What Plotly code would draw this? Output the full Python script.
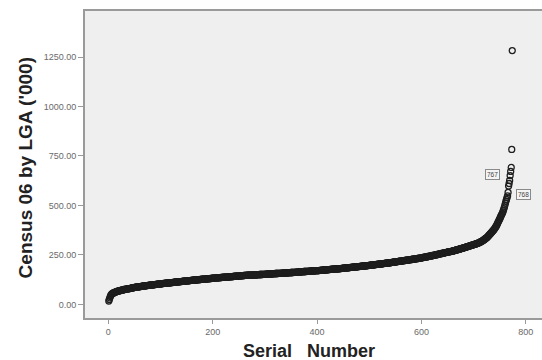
import plotly.graph_objects as go

# Census 2006 population by LGA ('000), sorted ascending
census = [
    17, 25, 33, 40, 46, 50, 53, 55, 57, 58,
    59, 60, 61, 62, 64, 65, 66, 66, 67, 68,
    69, 69, 70, 71, 71, 72, 73, 73, 74, 75,
    75, 76, 76, 77, 77, 78, 78, 79, 79, 80,
    80, 81, 81, 82, 83, 83, 84, 84, 85, 86,
    86, 86, 87, 87, 88, 88, 88, 89, 89, 90, 90, 90, 91, 91, 92, 92, 92, 93, 93, 94,
    94, 94, 95, 95, 95, 96, 96, 96, 97, 97, 97, 98, 98, 98, 99, 99, 99, 100, 100, 100,
    101, 101, 101, 102, 102, 102, 103, 103, 103, 104,
    104, 104, 105, 105, 105, 106, 106, 106, 106, 107, 107, 107, 108, 108, 108, 108, 109, 109, 109, 110,
    110, 110, 110, 111, 111, 111, 112, 112, 112, 113,
    113, 113, 114, 114, 114, 114, 115, 115, 115, 115, 116, 116, 116, 117, 117, 117, 117, 118, 118, 118,
    119, 119, 119, 119, 120, 120, 120, 121, 121, 121, 121, 122, 122, 122, 123, 123,
    123, 124, 124, 124, 124, 125, 125, 125, 125, 126, 126, 126, 126, 127, 127, 127, 127, 128, 128, 128,
    128, 129, 129, 129, 129, 130, 130, 130, 130, 131, 131, 131, 131, 132,
    132, 132, 133, 133, 133, 133, 134, 134, 134, 134, 134, 135, 135, 135, 135, 136, 136, 136, 136, 136,
    137, 137, 137, 137, 138, 138, 138, 138, 138, 139, 139, 139, 139, 140, 140, 140, 140, 140, 141, 141,
    141, 141, 142, 142, 142, 142, 142, 143, 143, 143, 143, 144, 144, 144, 144, 145,
    145, 145, 145, 146, 146, 146, 146, 146, 146, 147, 147, 147, 147, 147, 147, 148, 148, 148, 148, 148,
    148, 149, 149, 149, 149, 149, 149, 150, 150, 150, 150, 150, 150, 151, 151, 151, 151, 151, 151, 152,
    152, 152, 152, 152,
    152, 153, 153, 153, 153, 153, 153, 154, 154, 154, 154, 154, 154, 155, 155, 155, 155, 155, 155, 156,
    156, 156, 156, 156, 156, 157, 157, 157, 157, 157, 157, 158, 158, 158, 158, 158, 158, 159, 159, 159,
    159, 159, 159, 160, 160, 160, 160, 160,
    160, 161, 161, 161, 161, 161, 162, 162, 162, 162, 162, 163, 163, 163, 163, 163, 164, 164, 164, 164,
    164, 165, 165, 165, 165, 165, 166, 166, 166, 166, 166, 167, 167, 167, 167, 167, 168, 168, 168, 168,
    168, 169, 169, 169, 169, 169, 170, 170, 170, 170, 170, 170,
    171, 171, 171, 171, 172, 172, 172, 172, 173, 173, 173, 173, 174, 174, 174, 174, 175, 175, 175, 175,
    176, 176, 176, 176, 177, 177, 177, 177, 178, 178, 178, 178, 178, 179, 179, 179, 179, 180, 180, 180,
    180, 180, 181, 181,
    181, 181, 182, 182, 182, 183, 183, 183, 183, 184, 184, 184, 185, 185, 185, 185, 186, 186, 186, 187,
    187, 187, 187, 188, 188, 188, 189, 189, 189, 189, 190, 190, 190, 191, 191, 191, 191, 192, 192, 192,
    193, 193, 193, 193, 194, 194, 194, 195, 195, 195, 195, 196, 196, 196, 197, 197,
    197, 198, 198, 198, 199, 199, 199, 200, 200, 200, 201, 201, 201, 202, 202, 202, 203, 203, 203, 204,
    204, 204, 205, 205, 205, 206, 206, 206, 207, 207, 207, 208, 208, 208, 209, 209, 209, 210, 210, 210,
    211, 211, 212, 212, 212, 213, 213, 214, 214, 214, 215, 215, 216, 216, 216, 217, 217, 218, 218, 218,
    219, 219, 220, 220, 220, 221, 221, 222, 222, 222, 223, 223, 224, 224, 224, 225, 225, 226, 226, 226,
    227, 227, 228, 228, 228, 229, 229, 230, 230, 230, 231, 231, 232, 232, 232,
    233, 233, 234, 234, 235, 235, 236, 237, 237, 238, 238, 239, 239, 240, 240, 241, 242, 242, 243, 243,
    244, 244, 245, 245, 246, 247, 247, 248, 248, 249, 249, 250, 251, 251, 252, 252, 253, 254, 254, 255,
    255, 256, 257, 257, 258, 258, 259, 260, 260, 261, 262, 262, 263, 263, 264, 265, 265, 266, 266, 267,
    267, 268, 268,
    269, 270, 270, 271, 272, 273, 273, 274, 275, 276, 276, 277, 278, 279, 279, 280, 281, 282, 283, 283,
    284, 285, 286, 287, 287, 288, 289, 290, 291, 292, 292, 293, 294, 295, 296, 297, 298, 298, 299, 300,
    301, 302, 303, 303, 304,
    305, 306, 307, 308, 309, 310, 311, 313, 314, 315, 317, 318, 320, 321, 323, 325, 327, 329, 331, 333,
    335, 337, 339, 342, 345, 348,
    351, 354, 357, 360, 363, 366, 369, 372, 375, 378, 382, 386, 390, 394, 399, 404,
    410, 416, 421, 427, 432, 438, 444, 450, 455,
    460, 467, 475, 483, 492, 502, 512, 522, 530, 540, 548, 566,
    598, 611, 626, 651, 672, 692, 783, 1283,
]
serial = list(range(1, len(census) + 1))

x_ticks = [0, 200, 400, 600, 800]
y_ticks = [0, 250, 500, 750, 1000, 1250]
labelled_cases = [767, 768]
x_title = "Serial   Number"
y_title = "Census 06 by LGA ('000)"

FONT = "Liberation Sans, Arial, sans-serif"

fig = go.Figure()
fig.add_trace(go.Scatter(
    x=serial, y=census, mode="markers",
    marker=dict(symbol="circle-open", size=6, color="#1e1e1e", line=dict(width=1.3)),
    showlegend=False, hoverinfo="skip",
))

# case labels (boxes), placed beside the labelled cases
offsets = {767: (-16, -12), 768: (14, 11)}
for case in labelled_cases:
    ax, ay = offsets[case]
    fig.add_annotation(
        x=case, y=census[case - 1], xref="x", yref="y",
        text=str(case), showarrow=True, arrowcolor="rgba(0,0,0,0)", arrowwidth=0.1,
        ax=ax, ay=ay, font=dict(family=FONT, size=6.5, color="#444"),
        bordercolor="#8a8a8a", borderwidth=1, borderpad=1, bgcolor="#f4f4f4",
    )

# axis titles
fig.add_annotation(
    xref="paper", yref="paper", x=0, y=0.489, xanchor="center", yanchor="middle",
    xshift=-59.5, textangle=-90, showarrow=False, text=f"<b>{y_title}</b>",
    font=dict(family=FONT, size=19, color="#222"),
)
fig.add_annotation(
    xref="paper", yref="paper", x=0.491, y=0, xanchor="center", yanchor="middle",
    yshift=-33, showarrow=False, text=f"<b>{x_title}</b>",
    font=dict(family=FONT, size=18, color="#222"),
)

fig.update_layout(
    width=542, height=360,
    margin=dict(l=85, r=0, t=11, b=42),
    paper_bgcolor="white", plot_bgcolor="#efefef",
    font=dict(family=FONT, color="#555"),
    hovermode=False,
    xaxis=dict(
        range=[-44.6, 831], tickvals=x_ticks, ticktext=[str(v) for v in x_ticks],
        automargin=False,
        showgrid=False, zeroline=False, showline=True, linecolor="#9a9a9a", linewidth=2,
        mirror=True, ticks="outside", ticklen=4, tickcolor="#9a9a9a",
        tickfont=dict(size=9, color="#6a6a6a"),
    ),
    yaxis=dict(
        range=[-69, 1483], tickvals=y_ticks, ticktext=[f"{v:.2f}" for v in y_ticks],
        automargin=False,
        showgrid=False, zeroline=False, showline=True, linecolor="#9a9a9a", linewidth=2,
        ticks="outside", ticklen=5, tickcolor="#9a9a9a",
        tickfont=dict(size=9, color="#6a6a6a"),
    ),
)

fig.write_html("out.html", config={"displayModeBar": False},
               post_script="document.body.style.margin='0';")
